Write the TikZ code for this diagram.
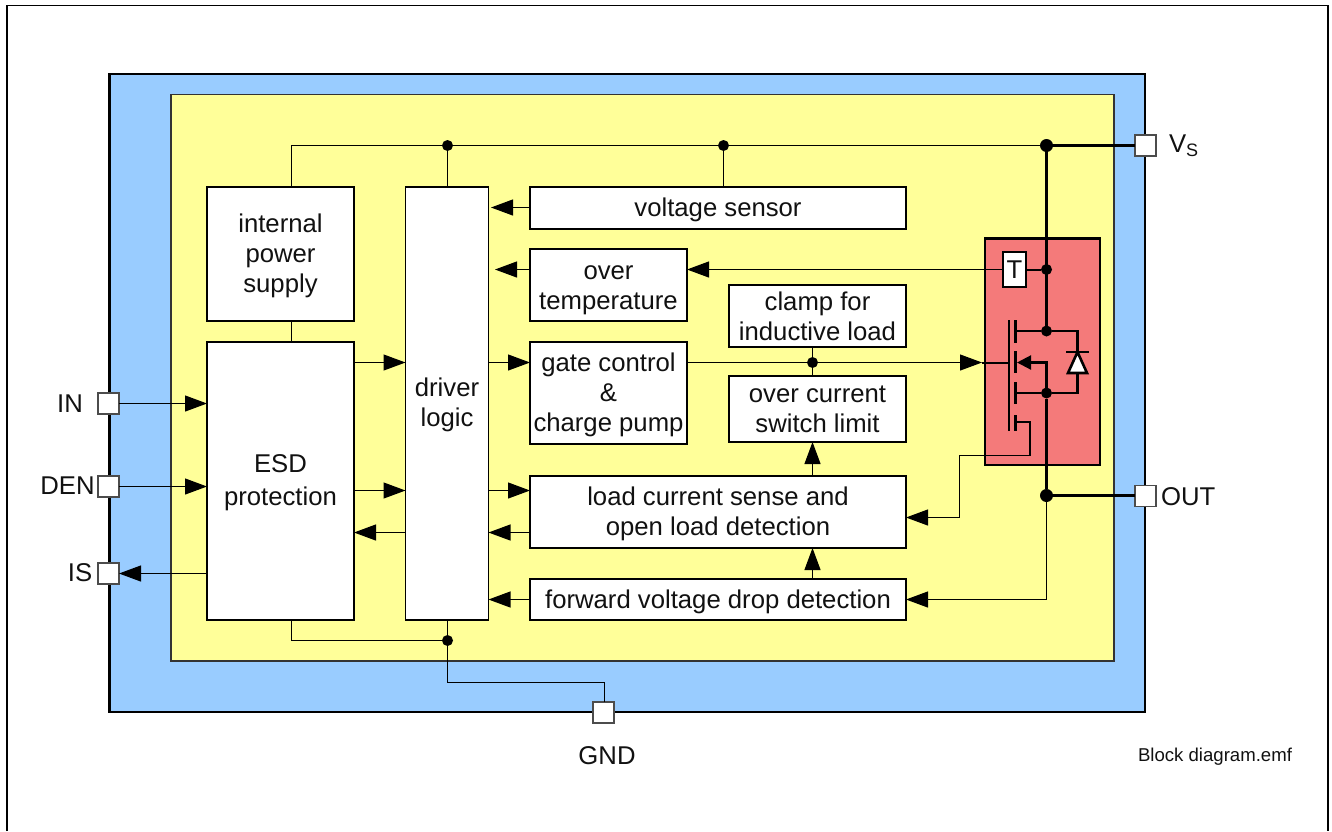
\documentclass[tikz,border=0pt]{standalone}
\usepackage{fontspec}
\setmainfont{Liberation Sans}
\usetikzlibrary{arrows.meta,calc}
\definecolor{pkgblue}{HTML}{99CCFF}
\definecolor{chipyellow}{HTML}{FFFF99}
\definecolor{fetred}{HTML}{F47A7A}
\definecolor{inkc}{HTML}{111111}
\newcommand\dn[1]{\rule{0pt}{#1pt}}
\tikzset{
 x=1pt,y=-1pt,
 every node/.style={font=\fontsize{25.7}{30}\selectfont,text=inkc,inner sep=0pt,outer sep=0pt},
 blk/.style={draw=black,fill=white,line width=1.6pt,align=center,anchor=north west},
 pin/.style={draw=black!70,fill=white,line width=1.3pt,minimum width=21pt,minimum height=21pt},
 wire/.style={line width=1.15pt,draw=black},
 power/.style={line width=2.4pt,draw=black},
 fetline/.style={line width=2.2pt,draw=black},
 arr/.style={wire,-{Triangle[length=22pt,width=16pt]}},
 dot/.style={circle,fill=black,minimum size=11pt},
 bigdot/.style={circle,fill=black,minimum size=13pt},
 meddot/.style={circle,fill=black,minimum size=11pt},
 lbl/.style={anchor=center},
}
\begin{document}
\begin{tikzpicture}
\useasboundingbox (0,0) rectangle (1332,831);
% frame
\draw[line width=1.5pt] (7,831) -- (7,5.5) -- (1328,5.5) -- (1328,831);
% package and chip
\draw[fill=pkgblue,line width=2.8pt] (109.5,74) rectangle (1145,712);
\draw[fill=chipyellow,line width=1.3pt,draw=black!80] (171,94.5) rectangle (1114,661);
\draw[fill=fetred,line width=2.2pt] (985,238.5) rectangle (1100,465);
% blocks
\node[blk,minimum width=147pt,minimum height=134pt] (ips) at (207,187) {\dn{23}internal\\power\\supply};
\node[blk,minimum width=147pt,minimum height=278pt] (esd) at (207,342) {\dn{22}ESD\\[3pt]protection};
\node[blk,minimum width=83pt,minimum height=433pt] (drv) at (405.5,187) {\dn{22}driver\\logic};
\node[blk,minimum width=376pt,minimum height=42pt] (vsens) at (530,187) {\dn{23}voltage sensor};
\node[blk,minimum width=157pt,minimum height=72pt] (otemp) at (530,249) {\dn{24}over\\temperature};
\node[blk,minimum width=157pt,minimum height=102pt] (gate) at (530,342) {\dn{23}gate control\\\&\\charge pump};
\node[blk,minimum width=177pt,minimum height=62pt] (clamp) at (729,285) {clamp for\\inductive load};
\node[blk,minimum width=177pt,minimum height=66pt] (ocur) at (729,376) {over current\\switch limit};
\node[blk,minimum width=376pt,minimum height=72pt] (load) at (530,476) {\dn{23}load current sense and\\open load detection};
\node[blk,minimum width=376pt,minimum height=41pt] (fwd) at (530,579) {\dn{23}forward voltage drop detection};
\node[blk,anchor=center,minimum width=23.5pt,minimum height=35pt,line width=1.6pt] (tsens) at (1014.5,269.5) {T};
% pins
\node[pin] (pvs) at (1145.5,145.5) {};
\node[pin] (pout) at (1145.5,496) {};
\node[pin] (pin1) at (108.5,403.5) {};
\node[pin] (pden) at (108.5,486.5) {};
\node[pin] (pis) at (108.5,573.5) {};
\node[pin] (pgnd) at (603.5,712.5) {};
% pin labels
\node[lbl] (tin) at (70,403.5) {IN};
\node[lbl] (tden) at (67.5,486) {DEN};
\node[lbl] (tis) at (80,573) {IS};
\node[lbl,anchor=west] (tvs) at (1169,146) {V\textsubscript{S}};
\node[lbl,anchor=west] (tout) at (1161,496.5) {OUT};
\node[lbl] (tgnd) at (607,756) {GND};
\node[lbl,font=\fontsize{18.6}{22}\selectfont] (tname) at (1215,757) {Block diagram.emf};
% junctions
\node[dot] (j1) at (447.5,145.5) {};
\node[dot] (j2) at (723.5,145.5) {};
\node[bigdot] (j3) at (1046.5,145.5) {};
\node[meddot] (j4) at (1046.5,269.5) {};
\node[meddot] (j5) at (1046.5,331) {};
\node[meddot] (j6) at (1046.5,393) {};
\node[bigdot] (j7) at (1046.5,495.5) {};
\node[dot] (j8) at (812.5,362.5) {};
\node[dot] (j9) at (447.5,640.5) {};
\coordinate (railw) at (291.5,145.5);
\coordinate (gndb) at (447.5,682.5);
\coordinate (gndr) at (604.5,682.5);
\coordinate (botw) at (291.5,640.5);
\coordinate (fetin) at (982,362.5);
\coordinate (senseA) at (959.5,455.5);
\coordinate (senseB) at (959.5,517.5);
\coordinate (tipT) at (495,269.5);
\coordinate (tipV) at (491,207.5);
\coordinate (tipGate) at (489,362.5);
% supply rail and ground
\draw[wire] (ips.north -| railw) -- (railw) -- (j3);
\draw[wire] (j1) -- (drv.north -| j1);
\draw[wire] (j2) -- (vsens.north -| j2);
\draw[power] (j3) -- (pvs);
\draw[power] (j3) -- (j5);
\draw[power] (j6) -- (j7);
\draw[power] (j7) -- (pout.west |- j7);
\draw[wire] (ips.south -| railw) -- (esd.north -| railw);
\draw[wire] (esd.south -| botw) -- (botw) -- (j9);
\draw[wire] (drv.south -| j9) -- (gndb) -- (gndr) -- (pgnd.north -| gndr);
% inputs / outputs
\draw[arr] (pin1) -- (esd.west |- pin1);
\draw[arr] (pden) -- (esd.west |- pden);
\draw[arr] (esd.west |- pis) -- (pis.east);
% ESD <-> driver
\draw[arr] (esd.east |- 0,362.5) -- (drv.west |- 0,362.5);
\draw[arr] (esd.east |- 0,490.5) -- (drv.west |- 0,490.5);
\draw[arr] (drv.west |- 0,532.5) -- (esd.east |- 0,532.5);
% driver <-> blocks
\draw[arr] (vsens.west |- tipV) -- (tipV);
\draw[arr] (otemp.west |- tipT) -- (tipT);
\draw[arr] (drv.east |- tipGate) -- (gate.west |- tipGate);
\draw[arr] (drv.east |- 0,490.5) -- (load.west |- 0,490.5);
\draw[arr] (load.west |- 0,532.5) -- (drv.east |- 0,532.5);
\draw[arr] (fwd.west |- 0,599.5) -- (drv.east |- 0,599.5);
% right part
\draw[arr] (tsens.west |- j4) -- (otemp.east |- j4);
\draw[wire,line width=2pt] (tsens.east |- j4) -- (j4);
\draw[arr] (gate.east |- fetin) -- (fetin);
\draw[wire] (clamp.south -| j8) -- (ocur.north -| j8);
\draw[arr] (load.north -| j8) -- (ocur.south -| j8);
\draw[arr] (fwd.north -| j8) -- (load.south -| j8);
\draw[arr] (j7) -- (j7 |- 0,599.5) -- (fwd.east |- 0,599.5);
\draw[arr] (1030,455.5) -- (senseA) -- (senseB) -- (load.east |- senseB);
% MOSFET
\draw[wire,line width=2pt] (fetin) -- (1009,362.5);
\draw[fetline] (1009,320) -- (1009,431);
\draw[fetline,line width=2.6pt] (1015.5,320) -- (1015.5,342.5);
\draw[fetline,line width=2.6pt] (1015.5,351) -- (1015.5,373);
\draw[fetline,line width=2.6pt] (1015.5,382) -- (1015.5,404);
\draw[fetline,line width=2.6pt] (1015.5,415) -- (1015.5,431);
\draw[fetline] (1015.5,331) -- (j5);
\draw[fetline] (1015.5,393) -- (j6);
\draw[fetline] (1015.5,422) -- (1030,422) -- (1030,455.5);
\draw[fetline,-{Triangle[length=14pt,width=14pt]}] (j6) -- (1046.5,362.5) -- (1017,362.5);
% body diode
\draw[fetline] (j5) -- (1077.5,331) -- (1077.5,352);
\draw[fetline] (j6) -- (1077.5,393) -- (1077.5,373);
\draw[fetline,line width=2.6pt] (1066,352) -- (1089,352);
\draw[fill=white,line width=2.6pt,line join=miter] (1077.5,352) -- (1068,373) -- (1087,373) -- cycle;
\end{tikzpicture}
\end{document}
